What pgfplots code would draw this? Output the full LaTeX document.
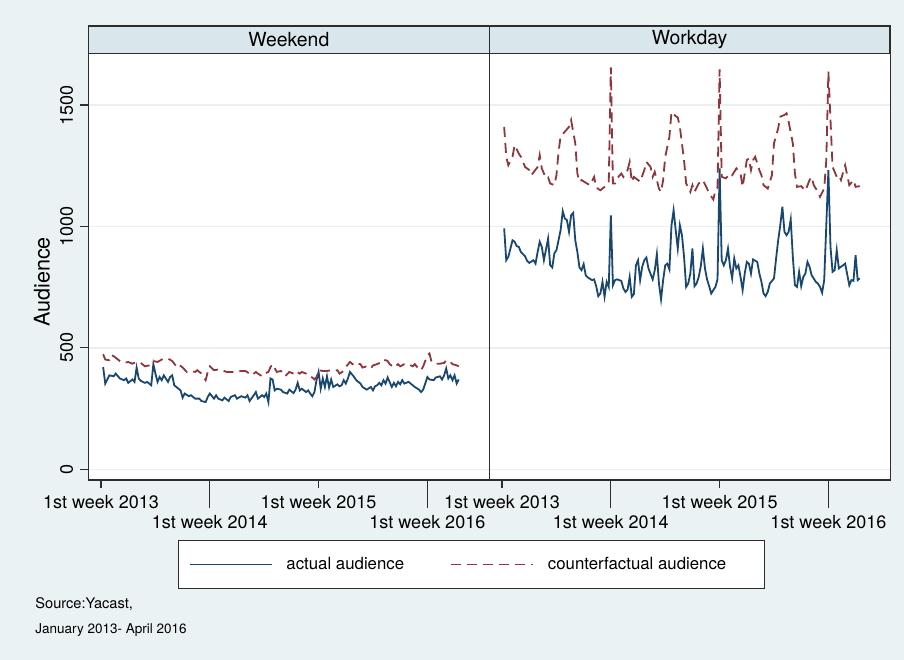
\documentclass[border=0pt]{standalone}
\usepackage{pgfplots}
\pgfplotsset{compat=1.18}
\usepackage{pgfplotstable}
\usepackage{fontspec}
\setmainfont{TeX Gyre Heros}

\definecolor{bgcol}{RGB}{234,242,243}
\definecolor{stripcol}{RGB}{217,230,235}
\definecolor{gridcol}{RGB}{232,240,242}
\definecolor{snavy}{RGB}{26,71,111}
\definecolor{smaroon}{RGB}{144,53,59}
\definecolor{framecol}{RGB}{45,45,45}

% weeks counted from the 1st week of 2013
\pgfplotstableread{
wk val
1 421
2 353
3 370
4 387
6 383
7 394
9 374
11 367
12 374
13 356
15 370
16 360
17 419
18 374
19 364
21 356
22 360
24 346
25 433
26 394
27 360
28 380
29 367
30 387
32 360
33 380
34 387
35 346
37 332
38 325
39 295
40 312
42 301
43 305
45 291
47 291
48 281
50 277
51 298
52 312
54 291
55 305
56 291
58 284
59 295
61 281
62 298
64 305
65 291
67 301
69 295
70 305
71 281
73 305
74 318
75 291
77 305
78 298
79 312
80 277
81 374
82 370
83 325
84 332
86 328
87 318
89 312
90 328
92 314
93 328
94 356
95 325
96 332
98 318
99 325
100 312
101 301
102 318
103 367
104 401
105 332
106 374
107 339
108 383
109 337
110 370
111 339
113 350
114 342
115 346
116 367
117 353
118 374
119 401
121 380
122 367
124 353
125 339
127 328
129 339
130 325
131 342
132 346
133 356
134 346
135 367
136 353
137 378
139 339
140 356
141 342
142 360
143 350
144 367
145 353
147 360
149 346
150 339
152 328
153 318
154 328
156 380
157 370
159 367
160 378
162 383
163 370
164 387
165 415
166 374
167 387
168 367
169 387
170 353
171 370
}\wkndact

\pgfplotstableread{
wk val
1 474
2 452
4 449
5 470
6 466
9 446
11 438
13 442
15 435
17 442
19 438
21 424
23 428
24 433
25 446
27 442
29 452
31 456
32 456
34 446
36 424
37 433
39 419
41 401
43 405
45 401
46 408
48 394
50 367
51 401
52 424
54 408
56 411
58 408
60 401
62 401
65 401
67 405
69 405
71 394
72 387
74 401
75 394
77 383
78 394
80 401
81 421
82 433
84 401
86 405
88 383
90 401
92 394
93 405
95 394
96 401
98 394
99 383
101 378
102 370
103 380
104 408
106 405
108 405
110 408
111 405
113 408
114 394
116 405
117 421
119 442
121 428
122 435
124 433
125 419
127 424
129 415
130 428
132 433
134 442
135 452
137 446
138 433
140 419
142 433
143 424
145 433
147 433
149 424
150 433
152 411
153 408
154 424
156 470
157 477
158 442
160 435
162 435
164 438
165 449
167 442
168 433
170 428
171 424
}\wkndcf

\pgfplotstableread{
wk val
1 992
2 861
3 875
5 943
6 937
7 919
8 916
9 895
11 877
12 858
13 850
15 861
16 847
17 895
18 937
19 916
20 861
22 950
23 840
24 831
25 889
26 902
28 985
29 1063
30 1033
31 1026
32 978
33 1046
34 1056
35 943
36 895
37 831
38 820
39 845
40 799
41 790
43 779
44 782
45 754
46 713
47 724
48 772
49 710
50 772
51 751
52 1046
53 758
54 779
55 782
57 776
58 745
59 730
60 740
61 792
62 710
63 721
64 840
65 861
66 779
67 834
68 861
69 872
70 827
72 782
73 820
74 886
75 765
76 700
77 779
78 840
79 847
80 823
81 1005
82 1067
83 985
84 909
85 1005
86 964
87 875
88 751
89 765
90 806
91 909
92 754
93 765
94 792
95 836
96 909
97 827
98 782
99 754
100 724
101 738
102 751
103 782
104 1239
105 861
106 840
107 861
108 909
109 834
110 786
111 868
112 827
113 840
114 792
115 738
116 806
117 854
118 847
119 806
120 864
122 854
123 806
124 772
125 724
126 713
127 730
128 765
130 786
131 868
132 943
133 1005
134 1081
135 978
136 964
137 978
138 1029
139 875
140 758
141 751
142 813
143 754
144 792
145 806
146 854
147 834
148 799
150 772
151 765
152 751
153 727
154 779
156 1232
157 916
158 813
159 820
160 902
161 827
162 834
163 840
164 847
166 758
167 779
168 776
169 882
170 779
171 786
}\workact

\pgfplotstableread{
wk val
1 1410
2 1287
3 1252
5 1287
6 1335
8 1300
9 1287
11 1245
13 1232
14 1211
17 1245
18 1294
19 1239
21 1198
22 1202
23 1177
25 1170
26 1211
27 1307
28 1372
30 1390
32 1410
33 1438
35 1342
36 1218
37 1184
38 1191
40 1180
42 1170
44 1204
45 1160
47 1149
49 1163
51 1177
52 1655
53 1177
54 1177
55 1198
57 1218
58 1204
60 1232
61 1266
62 1184
63 1204
65 1191
66 1184
68 1232
69 1266
71 1245
72 1204
73 1225
75 1156
76 1142
77 1191
78 1287
80 1369
81 1472
83 1454
84 1449
85 1410
87 1273
88 1177
90 1142
91 1170
92 1142
94 1177
96 1191
98 1156
99 1136
101 1111
102 1149
103 1160
104 1647
105 1204
107 1198
109 1218
110 1211
112 1239
114 1218
115 1163
117 1273
118 1280
119 1232
120 1273
121 1287
123 1232
124 1211
125 1170
127 1156
129 1211
130 1342
132 1404
133 1452
135 1459
136 1466
137 1431
139 1342
140 1218
141 1163
143 1166
145 1147
147 1191
148 1204
149 1170
151 1142
152 1122
154 1156
155 1273
156 1637
158 1245
159 1225
160 1204
161 1211
162 1191
164 1252
165 1211
166 1170
168 1191
169 1163
171 1166
}\workcf

\pgfplotsset{
  panel/.style={
    scale only axis, anchor=south west,
    width=200.5bp, height=213.35bp,
    xmin=-6.1, xmax=185.6, ymin=-44, ymax=1713,
    axis background/.style={fill=white},
    axis line style={framecol, line width=0.6bp},
    tick style={framecol, line width=0.6bp},
    tick align=outside, major tick length=4bp,
    xtick pos=bottom, ytick pos=left,
    xtick={0,104}, xticklabels={1st week 2013,1st week 2015},
    extra x ticks={52,156}, extra x tick labels={1st week 2014,1st week 2016},
    extra x tick style={major tick length=14bp, grid=none},
    ytick={0,500,1000,1500},
    ymajorgrids, major grid style={gridcol, line width=0.8bp},
    tick label style={font=\fontsize{9bp}{10bp}\selectfont},
  },
  act/.style={snavy, line width=0.9bp},
  cf/.style={smaroon, line width=0.9bp, dash pattern=on 5bp off 3bp},
}

\begin{document}
\begin{tikzpicture}
\fill[bgcol] (0,0) rectangle (452bp,330bp);

% panel headers
\draw[framecol, line width=0.6bp, fill=stripcol] (44.15bp,303.35bp) rectangle (244.65bp,317bp);
\draw[framecol, line width=0.6bp, fill=stripcol] (244.65bp,303.35bp) rectangle (445bp,317bp);
\node[font=\fontsize{9.7bp}{11bp}\selectfont] at (144.4bp,310.2bp) {Weekend};
\node[font=\fontsize{9.7bp}{11bp}\selectfont] at (344.8bp,310.2bp) {Workday};

\begin{axis}[panel, at={(44.15bp,90bp)},
  yticklabels={0,500,1000,1500},
  yticklabel style={rotate=90, anchor=south},
  ylabel={Audience},
  ylabel style={font=\fontsize{10.8bp}{12bp}\selectfont, at={(axis description cs:-0.1155,0.464)}, anchor=center},
  legend image code/.code={\draw[#1] (0bp,0bp) -- (41bp,0bp);},
  legend columns=2,
  legend style={at={(0.9556,-0.198)}, anchor=center, draw=framecol, line width=0.6bp,
    fill=white, inner xsep=5bp, inner ysep=6bp,
    font=\fontsize{8.4bp}{10bp}\selectfont,
    /tikz/every odd column/.append style={column sep=5bp},
    /tikz/every even column/.append style={column sep=21bp}},
  legend cell align=left]
\addplot[act] table[x=wk, y=val] {\wkndact};
\addlegendentry{actual audience}
\addplot[cf] table[x=wk, y=val] {\wkndcf};
\addlegendentry{counterfactual audience\kern12bp}
\end{axis}

\begin{axis}[panel, at={(244.65bp,90bp)},
  yticklabels={}, ytick style={draw=none}]
\addplot[act] table[x=wk, y=val] {\workact};
\addplot[cf] table[x=wk, y=val] {\workcf};
\end{axis}

\node[anchor=west, inner sep=0pt, font=\fontsize{7.3bp}{8bp}\selectfont] at (17.5bp,28bp) {Source:Yacast,};
\node[anchor=west, inner sep=0pt, font=\fontsize{6.75bp}{8bp}\selectfont] at (17.5bp,15bp) {January 2013- April 2016};

\pgfresetboundingbox
\useasboundingbox (0,0) rectangle (452bp,330bp);
\end{tikzpicture}
\end{document}
